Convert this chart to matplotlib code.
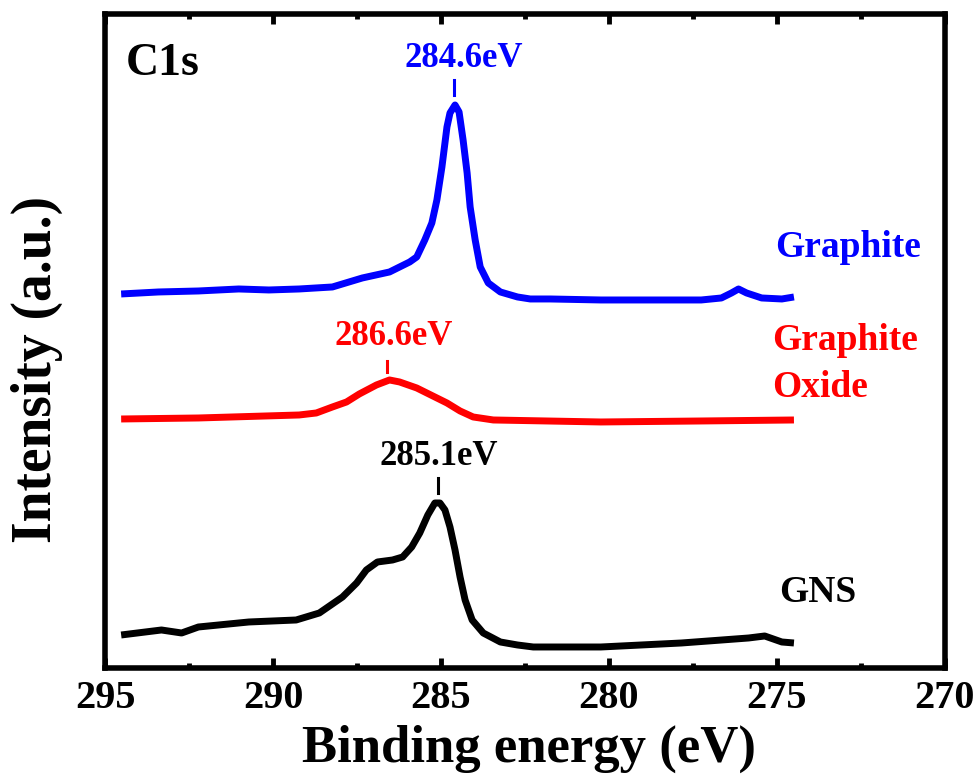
import numpy as np
import matplotlib.pyplot as plt

# %% Data (intensity in arbitrary units)
# ----------------------------------------------------------------------
e_graphite = [294.52, 293.41, 292.22, 291.02, 290.12, 289.22, 288.23, 287.34, 286.53,
              286.23, 285.93, 285.72, 285.48, 285.27, 285.12, 284.97, 284.82, 284.73,
              284.58, 284.46, 284.34, 284.22, 284.13, 283.98, 283.83, 283.59, 283.23,
              282.72, 282.34, 281.74, 280.24, 278.74, 277.25, 276.65, 276.35, 276.14,
              275.90, 275.45, 274.85, 274.49]
i_graphite = [3.74, 3.76, 3.77, 3.79, 3.78, 3.79, 3.81, 3.90, 3.96,
              4.01, 4.06, 4.11, 4.28, 4.45, 4.68, 5.01, 5.41, 5.55,
              5.63, 5.56, 5.28, 4.95, 4.61, 4.28, 4.01, 3.85, 3.76,
              3.71, 3.69, 3.69, 3.68, 3.68, 3.68, 3.70, 3.75, 3.79,
              3.75, 3.70, 3.69, 3.71]

e_go = [294.52, 292.22, 289.22, 288.71, 288.23, 287.81, 287.43, 286.92, 286.53,
        286.23, 285.72, 285.24, 284.82, 284.43, 284.04, 283.44, 280.24, 277.25, 274.49]
i_go = [2.49, 2.50, 2.53, 2.55, 2.61, 2.66, 2.74, 2.83, 2.88,
        2.86, 2.80, 2.72, 2.65, 2.57, 2.51, 2.48, 2.46, 2.47, 2.48]

e_gns = [294.52, 293.32, 292.72, 292.22, 290.72, 289.31, 288.62, 287.93, 287.51,
         287.22, 286.89, 286.44, 286.14, 285.87, 285.63, 285.39, 285.18, 285.03,
         284.88, 284.73, 284.58, 284.43, 284.28, 284.07, 283.74, 283.23, 282.72,
         282.25, 280.24, 277.84, 275.84, 275.36, 274.85, 274.49]
i_gns = [0.33, 0.38, 0.35, 0.41, 0.46, 0.48, 0.55, 0.71, 0.85,
         0.98, 1.06, 1.08, 1.11, 1.21, 1.35, 1.53, 1.65, 1.65,
         1.58, 1.41, 1.18, 0.91, 0.68, 0.48, 0.35, 0.26, 0.23,
         0.21, 0.21, 0.25, 0.30, 0.32, 0.26, 0.25]

# peak positions (eV) and labels
peak_e = [284.6, 286.6, 285.1]
peak_txt = ["284.6eV", "286.6eV", "285.1eV"]

# %% Plot
# ----------------------------------------------------------------------
plt.rcParams['font.family'] = ['Liberation Serif', 'DejaVu Serif']
plt.rcParams['font.weight'] = 'bold'

fig = plt.figure(figsize=(9.77, 7.80), dpi=100)
ax = fig.add_axes([0.1075, 0.1436, 0.8595, 0.8385])

lw = 5
ax.plot(e_graphite, i_graphite, color='#0000ff', lw=lw, solid_joinstyle='round', solid_capstyle='butt')
ax.plot(e_go, i_go, color='#ff0000', lw=lw, solid_joinstyle='round', solid_capstyle='butt')
ax.plot(e_gns, i_gns, color='black', lw=lw, solid_joinstyle='round', solid_capstyle='butt')

# peak markers + labels
cols = ['#0000ff', '#ff0000', 'black']
mark_y = [(5.73, 5.88), (2.96, 3.07), (1.75, 1.90)]
txt_pos = [(284.31, 6.01), (286.41, 3.23), (285.07, 2.03)]
for pe, t, c, (y0, y1), (tx, ty) in zip(peak_e, peak_txt, cols, mark_y, txt_pos):
    ax.plot([pe, pe], [y0, y1], color=c, lw=2.2)
    ax.text(tx, ty, t, color=c, fontsize=25, fontweight='bold', ha='center', va='baseline')

# series labels
ax.text(275.06, 4.11, "Graphite", color='#0000ff', fontsize=27, fontweight='bold', va='baseline')
ax.text(275.15, 3.18, "Graphite", color='#ff0000', fontsize=27, fontweight='bold', va='baseline')
ax.text(275.15, 2.71, "Oxide", color='#ff0000', fontsize=27, fontweight='bold', va='baseline')
ax.text(274.94, 0.66, "GNS", color='black', fontsize=27, fontweight='bold', va='baseline')
ax.text(294.37, 5.93, "C1s", color='black', fontsize=33, fontweight='bold', va='baseline')

ax.set_xlim(295, 270)
ax.set_ylim(0, 6.54)
ax.set_xticks([295, 290, 285, 280, 275, 270])
ax.set_xticks(np.arange(292.5, 270, -5), minor=True)
ax.set_yticks([])

ax.tick_params(axis='x', which='major', direction='in', length=7, width=3.5,
               top=True, labelsize=29, pad=9)
ax.tick_params(axis='x', which='minor', direction='in', length=3.5, width=3.5, top=True)
for s in ax.spines.values():
    s.set_linewidth(4)

ax.set_xlabel("Binding energy (eV)", fontsize=38, fontweight='bold')
ax.set_ylabel("Intensity (a.u.)", fontsize=40, fontweight='bold')
ax.xaxis.set_label_coords(0.505, -0.087, transform=ax.transAxes)
ax.yaxis.set_label_coords(-0.05, 0.456)

fig.savefig("out.png", dpi=100)
